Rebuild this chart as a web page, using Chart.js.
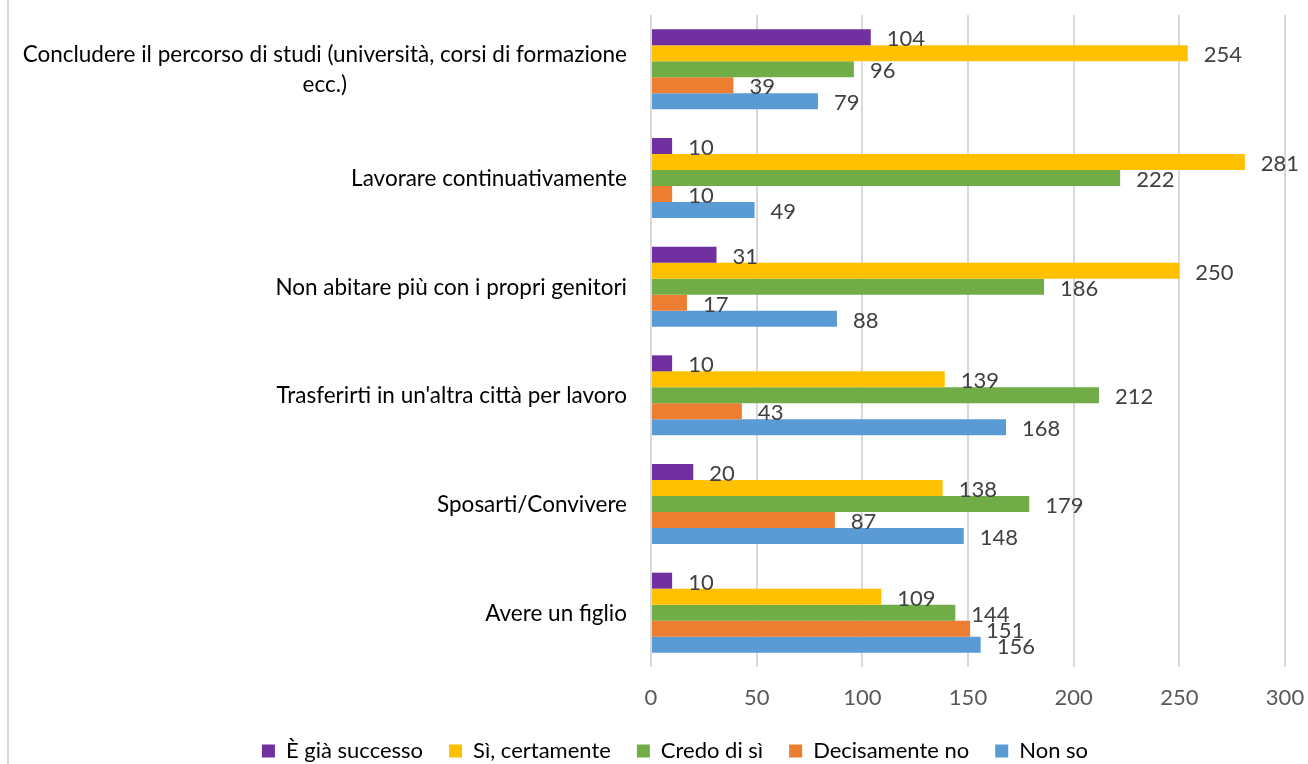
<!DOCTYPE html>
<html>
<head>
<meta charset="utf-8">
<script src="https://cdn.jsdelivr.net/npm/chart.js@4.4.1/dist/chart.umd.min.js"></script>
<style>
html,body{margin:0;padding:0;background:#ffffff;}
#wrap{position:relative;width:1308px;height:764px;}
</style>
</head>
<body>
<div id="wrap"><canvas id="c" width="1308" height="764"></canvas></div>
<script>
// ---- data ----
const categories = [
  ["Concludere il percorso di studi (università, corsi di formazione", "ecc.)"],
  "Lavorare continuativamente",
  "Non abitare più con i propri genitori",
  "Trasferirti in un'altra città per lavoro",
  "Sposarti/Convivere",
  "Avere un figlio"
];
const seriesNames = ["È già successo", "Sì, certamente", "Credo di sì", "Decisamente no", "Non so"];
const giaSuccesso   = [104, 10, 31, 10, 20, 10];
const siCertamente  = [254, 281, 250, 139, 138, 109];
const credoDiSi     = [96, 222, 186, 212, 179, 144];
const decisamenteNo = [39, 10, 17, 43, 87, 151];
const nonSo         = [79, 49, 88, 168, 148, 156];
const xTickValues   = [0, 50, 100, 150, 200, 250, 300];
const seriesColors  = ["#7030A0", "#FFC000", "#70AD47", "#ED7D31", "#5B9BD5"];

// ---- style ----
const FONT = "Lato";
const FS = 22;
const CAT_FS = 22.5;

const seriesValues = [giaSuccesso, siCertamente, credoDiSi, decisamenteNo, nonSo];

const frameLine = {
  id: 'frameLine',
  beforeDraw(chart) {
    const ctx = chart.ctx;
    ctx.save();
    ctx.fillStyle = '#ffffff';
    ctx.fillRect(0, 0, chart.width, chart.height);
    ctx.strokeStyle = '#d9d9d9';
    ctx.lineWidth = 2;
    ctx.beginPath();
    ctx.moveTo(8, 0);
    ctx.lineTo(8, chart.height);
    ctx.stroke();
    ctx.restore();
  }
};

const legendShift = {
  id: 'legendShift',
  afterLayout(chart) {
    const lg = chart.legend;
    if (lg) { lg.top += 8; lg.bottom += 8; }
  }
};

const valueLabels = {
  id: 'valueLabels',
  afterDatasetsDraw(chart) {
    const ctx = chart.ctx;
    ctx.save();
    ctx.font = FS + 'px ' + FONT;
    ctx.fillStyle = '#404040';
    ctx.textAlign = 'left';
    ctx.textBaseline = 'alphabetic';
    chart.data.datasets.forEach((ds, di) => {
      const meta = chart.getDatasetMeta(di);
      meta.data.forEach((el, i) => {
        ctx.fillText(String(ds.data[i]), el.x + 16, el.y + 1 + FS * 0.358);
      });
    });
    ctx.restore();
  }
};

const categoryLabels = {
  id: 'categoryLabels',
  afterDraw(chart) {
    const ctx = chart.ctx;
    const ys = chart.scales.y;
    const right = chart.chartArea.left - 24;
    ctx.save();
    ctx.font = CAT_FS + 'px ' + FONT;
    ctx.fillStyle = '#000000';
    ctx.textBaseline = 'alphabetic';
    categories.forEach((lab, i) => {
      const cy = ys.getPixelForValue(i);
      const lines = Array.isArray(lab) ? lab : [lab];
      const lh = 30;
      const maxW = Math.max(...lines.map(l => ctx.measureText(l).width));
      lines.forEach((l, k) => {
        const y = cy + (k - (lines.length - 1) / 2) * lh + CAT_FS * 0.358;
        if (lines.length > 1) {
          ctx.textAlign = 'center';
          ctx.fillText(l, right - maxW / 2, y);
        } else {
          ctx.textAlign = 'right';
          ctx.fillText(l, right, y);
        }
      });
    });
    ctx.restore();
  }
};

function draw() {
  new Chart(document.getElementById('c'), {
    type: 'bar',
    data: {
      labels: categories,
      datasets: seriesNames.map((name, k) => ({
        label: name,
        data: seriesValues[k],
        backgroundColor: seriesColors[k],
        borderWidth: 0,
        barPercentage: 1.0,
        categoryPercentage: 0.736
      }))
    },
    options: {
      indexAxis: 'y',
      responsive: false,
      devicePixelRatio: 1,
      animation: false,
      layout: { padding: { left: 65, right: 23, top: 15, bottom: 0 } },
      scales: {
        x: {
          type: 'linear',
          min: xTickValues[0],
          max: xTickValues[xTickValues.length - 1],
          afterBuildTicks(scale) { scale.ticks = xTickValues.map(v => ({ value: v })); },
          ticks: { color: '#595959', font: { family: FONT, size: FS }, padding: 18 },
          grid: { color: '#d9d9d9', lineWidth: 2, drawTicks: false },
          border: { display: false },
          afterFit(scale) { scale.height = 39; scale.paddingLeft = 0; scale.paddingRight = 0; }
        },
        y: {
          type: 'category',
          ticks: { display: false },
          grid: { display: false },
          border: { display: false },
          afterFit(scale) { scale.width = 586; }
        }
      },
      plugins: {
        legend: {
          position: 'bottom',
          labels: {
            font: { family: FONT, size: FS },
            color: '#000000',
            boxWidth: 13,
            boxHeight: 13,
            padding: 26
          }
        },
        tooltip: { enabled: false }
      }
    },
    plugins: [frameLine, legendShift, valueLabels, categoryLabels]
  });
}

if (document.fonts && document.fonts.load) {
  document.fonts.load(FS + 'px ' + FONT).then(draw, draw);
} else {
  draw();
}
</script>
</body>
</html>
